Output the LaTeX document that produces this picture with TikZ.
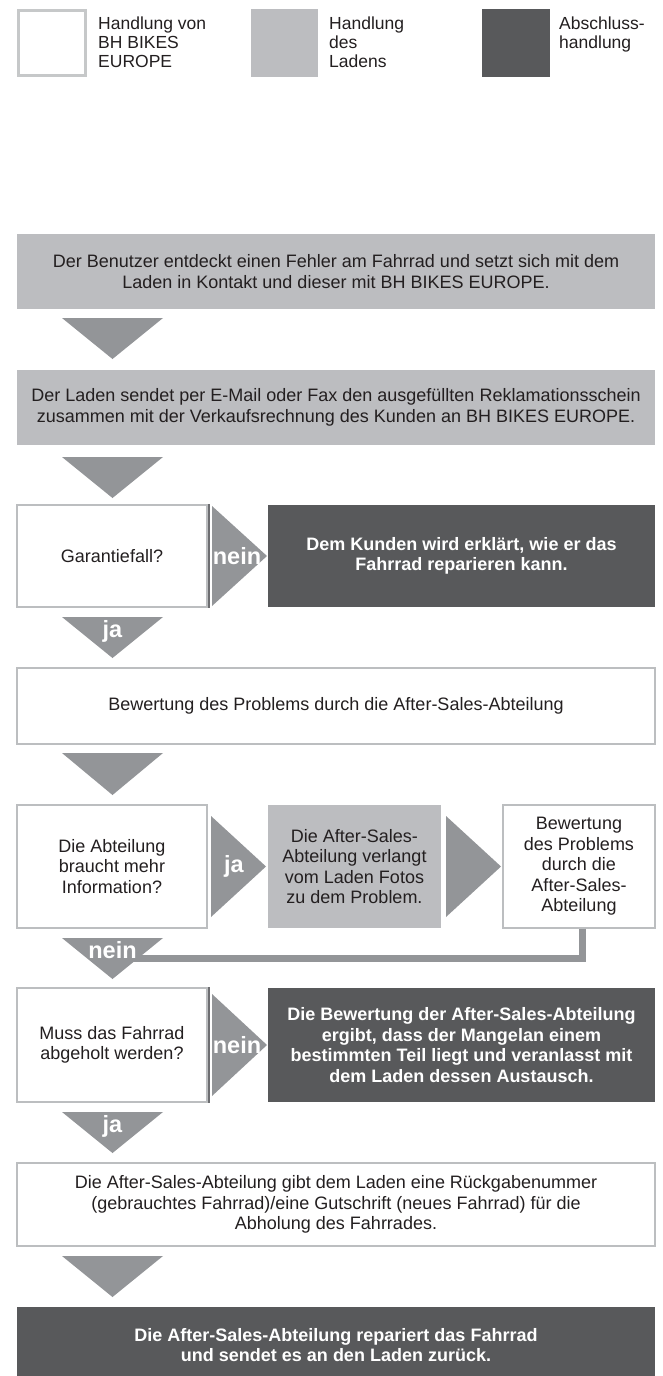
\documentclass[tikz,border=0pt]{standalone}
\usepackage{fontspec}
\setmainfont{Liberation Sans}
\usetikzlibrary{calc}
\definecolor{lgray}{HTML}{BCBDC0}
\definecolor{dgray}{HTML}{58595B}
\definecolor{agray}{HTML}{939598}
\definecolor{bgray}{HTML}{BCBEC0}
\definecolor{txt}{HTML}{231F20}
\definecolor{edge}{HTML}{6D6E71}
\begin{document}
\begin{tikzpicture}[x=1pt,y=-1pt,
  base/.style={inner sep=0pt, align=center, text=txt, font=\fontsize{18}{20.5}\selectfont},
  wbox/.style={base, draw=bgray, line width=1.2pt, fill=white},
  gbox/.style={base, fill=lgray},
  dbox/.style={base, fill=dgray, text=white, font=\bfseries\fontsize{18}{20.5}\selectfont},
  tri/.style={fill=agray},
  lab/.style={inner sep=0pt, text=white, font=\bfseries\fontsize{23.5}{23.5}\selectfont},
  legtxt/.style={inner sep=0pt, align=left, text=txt, anchor=north west, font=\fontsize{17.5}{19}\selectfont},
  conn/.style={draw=agray, line width=7pt},
  edgeline/.style={draw=edge, line width=2pt}]
\useasboundingbox (0,0) rectangle (663,1376);
\fill[white] (0,0) rectangle (663,1376);
% legend
\node[draw=bgray!85, line width=3pt, minimum width=67pt, minimum height=65pt, inner sep=0pt] (lw) at (52,43) {};
\node[legtxt] (lwt) at (98,16.5) {Handlung von\\BH BIKES\\EUROPE};
\node[fill=lgray, minimum width=67pt, minimum height=68pt, inner sep=0pt] (lg) at (284.5,43) {};
\node[legtxt] (lgt) at (329,16.5) {Handlung\\des\\Ladens};
\node[fill=dgray, minimum width=68pt, minimum height=68pt, inner sep=0pt] (ld) at (516,43) {};
\node[legtxt] (ldt) at (559,16.5) {Abschluss-\\handlung};
% row 1
\node[gbox, minimum width=638pt, minimum height=75pt] (b1) at (336,271.5)
  {Der Benutzer entdeckt einen Fehler am Fahrrad und setzt sich mit dem\\Laden in Kontakt und dieser mit BH BIKES EUROPE.};
\fill[tri] (62,318) -- (163,318) -- (112.5,359) -- cycle;
\node[gbox, minimum width=638pt, minimum height=75pt] (b2) at (336,407.5)
  {Der Laden sendet per E-Mail oder Fax den ausgefüllten Reklamationsschein\\zusammen mit der Verkaufsrechnung des Kunden an BH BIKES EUROPE.};
\fill[tri] (62,457) -- (163,457) -- (112.5,498) -- cycle;
% Garantiefall
\node[wbox, minimum width=190pt, minimum height=102pt] (g) at (112,556) {Garantiefall?};
\draw[edgeline] ([xshift=1.5pt]g.north east) -- ([xshift=1.5pt]g.south east);
\fill[tri] (212,506) -- (267,556) -- (212,606) -- cycle;
\node[lab] (gn) at (237,556) {nein};
\node[dbox, minimum width=387pt, minimum height=102pt] (gd) at (461.5,556)
  {Dem Kunden wird erklärt, wie er das\\Fahrrad reparieren kann.};
\fill[tri] (62,617) -- (163,617) -- (112.5,658) -- cycle;
\node[lab, anchor=base] (gj) at (112.5,637) {ja};
% Bewertung
\node[wbox, minimum width=638pt, minimum height=76pt] (bw) at (336,706)
  {Bewertung des Problems durch die After-Sales-Abteilung};
\fill[tri] (62,753) -- (163,753) -- (112.5,795) -- cycle;
% row 3
\node[wbox, minimum width=190pt, minimum height=123pt] (a) at (112,866.5)
  {Die Abteilung\\braucht mehr\\Information?};
\fill[tri] (211,816) -- (266,866.5) -- (211,917) -- cycle;
\node[lab] (aj) at (234,866.5) {ja};
\node[gbox, minimum width=173pt, minimum height=123pt] (f) at (354.5,866.5)
  {Die After-Sales-\\Abteilung verlangt\\vom Laden Fotos\\zu dem Problem.};
\fill[tri] (446,816) -- (501,866.5) -- (446,917) -- cycle;
\node[wbox, minimum width=152pt, minimum height=123pt] (r) at (579,866.5)
  {Bewertung\\des Problems\\durch die\\After-Sales-\\Abteilung};
\coordinate (nj) at (112.5,958);
\draw[conn] ([xshift=3pt]r.south) |- (nj);
\fill[tri] (62,938) -- (163,938) -- (112.5,979) -- cycle;
\node[lab, anchor=base] (an) at (112.5,958) {nein};
% Muss
\node[wbox, minimum width=190pt, minimum height=114pt] (m) at (112,1045)
  {Muss das Fahrrad\\abgeholt werden?};
\draw[edgeline] ([xshift=1.5pt]m.north east) -- ([xshift=1.5pt]m.south east);
\fill[tri] (212,994) -- (267,1045) -- (212,1096) -- cycle;
\node[lab] (mn) at (237,1045) {nein};
\node[dbox, minimum width=387pt, minimum height=114pt] (md) at (461.5,1045)
  {Die Bewertung der After-Sales-Abteilung\\ergibt, dass der Mangelan einem\\bestimmten Teil liegt und veranlasst mit\\dem Laden dessen Austausch.};
\fill[tri] (62,1112) -- (163,1112) -- (112.5,1153) -- cycle;
\node[lab, anchor=base] (mj) at (112.5,1132) {ja};
% final
\node[wbox, minimum width=638pt, minimum height=83pt] (s) at (336,1204.5)
  {Die After-Sales-Abteilung gibt dem Laden eine Rückgabenummer\\(gebrauchtes Fahrrad)/eine Gutschrift (neues Fahrrad) für die\\Abholung des Fahrrades.};
\fill[tri] (62,1256) -- (163,1256) -- (112.5,1297) -- cycle;
\node[dbox, minimum width=638pt, minimum height=76pt] (e) at (336,1345)
  {Die After-Sales-Abteilung repariert das Fahrrad\\und sendet es an den Laden zurück.};
\end{tikzpicture}
\end{document}
